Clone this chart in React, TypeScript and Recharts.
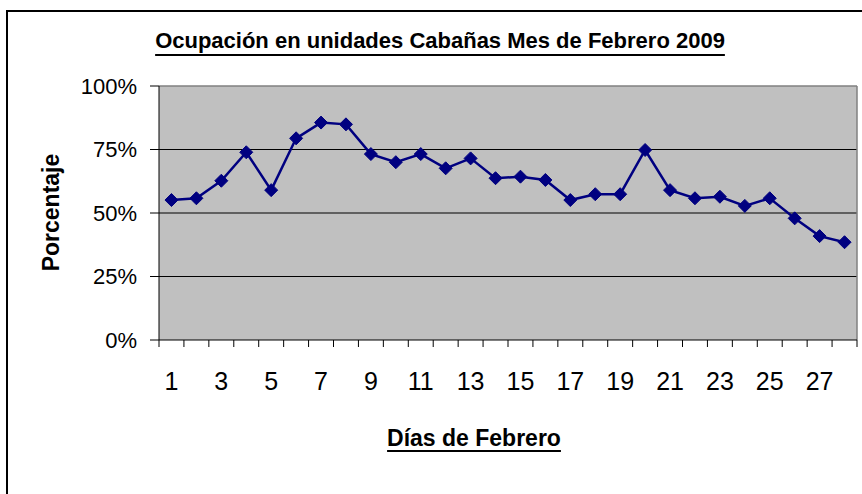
import { LineChart, Line, XAxis, YAxis, CartesianGrid, ReferenceLine } from "recharts";

const days = [
  1, 2, 3, 4, 5, 6, 7, 8, 9, 10, 11, 12, 13, 14, 15, 16, 17, 18, 19, 20, 21, 22, 23, 24, 25, 26, 27, 28,
];
const ocupacion = [
  55.1, 55.8, 62.7, 73.9, 59, 79.4, 85.6, 84.9, 73.2, 70, 73.2, 67.6, 71.5, 63.7, 64.3, 63, 55.1, 57.4,
  57.4, 74.8, 59, 55.8, 56.4, 52.8, 55.8, 47.9, 40.9, 38.5,
];
const yTicks = [0, 25, 50, 75, 100];
const xLabelDays = [1, 3, 5, 7, 9, 11, 13, 15, 17, 19, 21, 23, 25, 27];
const xTickMarks = [
  0.5, 1.5, 2.5, 3.5, 4.5, 5.5, 6.5, 7.5, 8.5, 9.5, 10.5, 11.5, 12.5, 13.5, 14.5, 15.5, 16.5, 17.5,
  18.5, 19.5, 20.5, 21.5, 22.5, 23.5, 24.5, 25.5, 26.5, 27.5, 28.5,
];

const data = days.map((d, i) => ({ day: d, value: ocupacion[i] }));
const FONT = "'Liberation Sans', Arial, sans-serif";

function Diamond(props: any) {
  const { cx, cy } = props;
  if (cx == null || cy == null) return null;
  const r = 6.5;
  return (
    <polygon
      points={`${cx},${cy - r} ${cx + r},${cy} ${cx},${cy + r} ${cx - r},${cy}`}
      fill="#000080"
      stroke="#000080"
      strokeWidth={1}
    />
  );
}

// tick marks sit between days, labels on odd days
function XTick(props: any) {
  const { x, y, payload } = props;
  const v = payload.value as number;
  if (!Number.isInteger(v)) {
    return <line x1={x} x2={x} y1={y} y2={y + 7} stroke="#000" strokeWidth={1} />;
  }
  if (!xLabelDays.includes(v)) return <g />;
  return (
    <text x={x} y={y + 50} textAnchor="middle" fontSize={25} fontFamily={FONT} fill="#000">
      {v}
    </text>
  );
}

const allXTicks = [...xTickMarks, ...xLabelDays].sort((a, b) => a - b);

export default function App() {
  return (
    <div style={{ position: "absolute", left: 0, top: 0, width: 862, height: 494, background: "#fff", overflow: "hidden" }}>
      <div
        style={{
          position: "absolute",
          left: 6,
          top: 10,
          width: 900,
          height: 600,
          border: "2px solid #000",
        }}
      />
      <LineChart
        width={862}
        height={494}
        data={data}
        margin={{ top: 86, right: 5, left: 0, bottom: 0 }}
        style={{ position: "absolute", left: 0, top: 0 }}
      >
        <CartesianGrid
          fill="#c0c0c0"
          stroke="#000"
          vertical={false}
          horizontalValues={[25, 50, 75]}
        />
        <XAxis
          dataKey="day"
          type="number"
          domain={[0.5, 28.5]}
          ticks={allXTicks}
          interval={0}
          height={154}
          tickLine={false}
          tickSize={0}
          tickMargin={0}
          axisLine={{ stroke: "#000", strokeWidth: 1 }}
          tick={<XTick />}
        />
        <YAxis
          domain={[0, 100]}
          ticks={yTicks}
          interval={0}
          width={159}
          tickSize={9}
          tickMargin={13}
          tickFormatter={(v: number) => `${v}%`}
          tick={{ fontSize: 22, fontFamily: FONT, fill: "#000" }}
          tickLine={{ stroke: "#000" }}
          axisLine={{ stroke: "#000", strokeWidth: 1 }}
        />
        <ReferenceLine y={100} stroke="#808080" strokeWidth={1.5} />
        <ReferenceLine x={28.5} stroke="#808080" strokeWidth={1.5} />
        <Line
          type="linear"
          dataKey="value"
          stroke="#000080"
          strokeWidth={2.5}
          dot={<Diamond />}
          activeDot={false}
          isAnimationActive={false}
        />
      </LineChart>
      <div
        style={{
          position: "absolute",
          left: 140,
          width: 600,
          top: 30,
          textAlign: "center",
          fontFamily: FONT,
          fontWeight: "bold",
          fontSize: 22,
          lineHeight: "22px",
          textDecoration: "underline",
          textDecorationThickness: 2,
          textUnderlineOffset: 6,
          color: "#000",
        }}
      >
        Ocupación en unidades Cabañas Mes de Febrero 2009
      </div>
      <div
        style={{
          position: "absolute",
          left: 324,
          width: 300,
          top: 427,
          textAlign: "center",
          fontFamily: FONT,
          fontWeight: "bold",
          fontSize: 23,
          lineHeight: "23px",
          textDecoration: "underline",
          textDecorationThickness: 2,
          textUnderlineOffset: 4,
          color: "#000",
        }}
      >
        Días de Febrero
      </div>
      <div
        style={{
          position: "absolute",
          left: 51 - 100,
          width: 200,
          top: 212 - 11.5,
          textAlign: "center",
          fontFamily: FONT,
          fontWeight: "bold",
          fontSize: 23,
          lineHeight: "23px",
          color: "#000",
          transform: "rotate(-90deg)",
          transformOrigin: "center center",
        }}
      >
        Porcentaje
      </div>
    </div>
  );
}
